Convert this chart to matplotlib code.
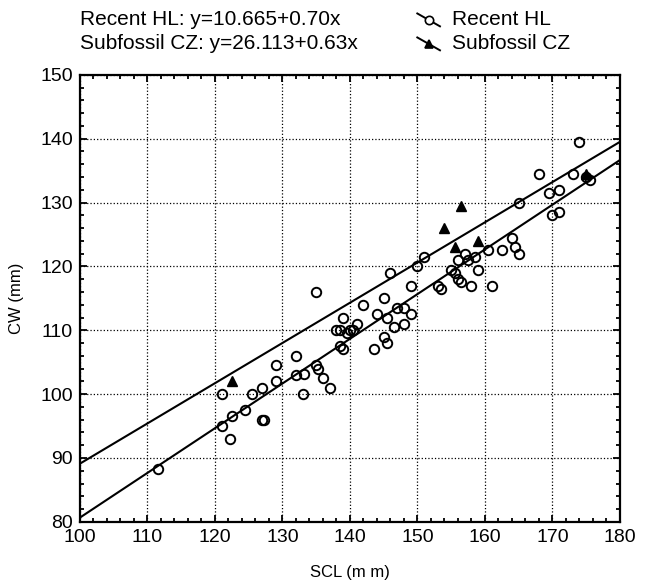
import matplotlib
matplotlib.use('Agg')
from matplotlib import pyplot as plt
from matplotlib import font_manager
from matplotlib.lines import Line2D
from matplotlib.ticker import MultipleLocator
import numpy as np

# Recent HL (open circles)
recent_scl = [111.5, 121, 121, 122.5, 122.2, 124.5, 125.5, 127, 127, 127.3,
              129, 129, 132, 132, 133, 133.2, 135, 135, 135.2, 136, 137,
              138, 138.5, 138.5, 139, 139, 139.5, 140, 140.5, 141, 142,
              143.5, 144, 145, 145, 145.5, 145.5, 146, 146.5, 147, 148, 148,
              149, 149, 150, 151, 153, 153.5, 155, 155.5, 156, 156, 156.5,
              157, 157.5, 158, 158.5, 159, 160.5, 161, 162.5, 164, 164.5,
              165, 165, 168, 169.5, 170, 171, 171, 173, 174, 175, 175.5]
recent_cw = [88.2, 100, 95, 96.5, 93, 97.5, 100, 101, 96, 96,
             104.5, 102, 106, 103, 100, 103.2, 116, 104.5, 104, 102.5, 101,
             110, 110, 107.5, 107, 112, 109.5, 110, 110, 111, 114,
             107, 112.5, 109, 115, 108, 112, 119, 110.5, 113.5, 111, 113.5,
             112.5, 117, 120, 121.5, 117, 116.5, 119.5, 119, 121, 118, 117.5,
             122, 121, 117, 121.5, 119.5, 122.5, 117, 122.5, 124.5, 123,
             130, 122, 134.5, 131.5, 128, 128.5, 132, 134.5, 139.5, 134, 133.5]

# Subfossil CZ (filled triangles)
fossil_scl = [122.5, 154, 155.5, 156.5, 159, 175]
fossil_cw = [102, 126, 123, 129.5, 124, 134.5]

# regression coefficients (intercept, slope)
recent_fit = (10.665, 0.70)
fossil_fit = (26.113, 0.63)

installed = {f.name for f in font_manager.fontManager.ttflist}
plt.rcParams['font.family'] = ['Liberation Sans', 'DejaVu Sans']
tick_font = 'Liberation Sans Narrow' if 'Liberation Sans Narrow' in installed else 'Liberation Sans'

fig = plt.figure(figsize=(6.47, 5.85), dpi=100)
ax = fig.add_axes([0.1236, 0.108, 0.8346, 0.764])

xs = np.linspace(100, 180, 200)
ax.plot(xs, fossil_fit[0] + fossil_fit[1] * xs, color='black', lw=1.5)
ax.plot(xs, recent_fit[0] + recent_fit[1] * xs, color='black', lw=1.5)
ax.plot(recent_scl, recent_cw, 'o', mfc='none', mec='black', ms=6.8, mew=1.4)
ax.plot(fossil_scl, fossil_cw, '^', color='black', ms=7)

ax.set_xlim(100, 180)
ax.set_ylim(80, 150)
ax.xaxis.set_major_locator(MultipleLocator(10))
ax.yaxis.set_major_locator(MultipleLocator(10))
ax.xaxis.set_minor_locator(MultipleLocator(2))
ax.yaxis.set_minor_locator(MultipleLocator(2))
ax.tick_params(which='both', direction='in', top=True, right=True, width=1.3)
ax.tick_params(which='major', length=5, labelsize=14, pad=5)
ax.tick_params(which='minor', length=3)
for lab in ax.get_xticklabels() + ax.get_yticklabels():
    lab.set_family(tick_font)
ax.grid(True, which='major', linestyle=':', color='black', lw=0.9)
for sp in ax.spines.values():
    sp.set_linewidth(1.6)

ax.set_xlabel('SCL (m m)', fontsize=12, labelpad=14)
ax.set_ylabel('CW (mm)', fontsize=12, labelpad=12)

# header equations
fig.text(0.124, 0.966, 'Recent HL: y=10.665+0.70x', fontsize=15, va='center')
fig.text(0.124, 0.925, 'Subfossil CZ: y=26.113+0.63x', fontsize=15, va='center')

# legend drawn by hand: diagonal stroke with marker in the middle
def legend_item(y, marker, filled, label):
    x0, x1 = 0.645, 0.680
    fig.add_artist(Line2D([x0, x1], [y + 0.011, y - 0.011], color='black', lw=1.4,
                          transform=fig.transFigure))
    fig.add_artist(Line2D([(x0 + x1) / 2], [y], marker=marker, ms=6,
                          mfc='black' if filled else 'white', mec='black', mew=1.2,
                          transform=fig.transFigure))
    fig.text(0.699, y, label, fontsize=15, va='center')

legend_item(0.966, 'o', False, 'Recent HL')
legend_item(0.925, '^', True, 'Subfossil CZ')

fig.savefig('out.png', dpi=100)
